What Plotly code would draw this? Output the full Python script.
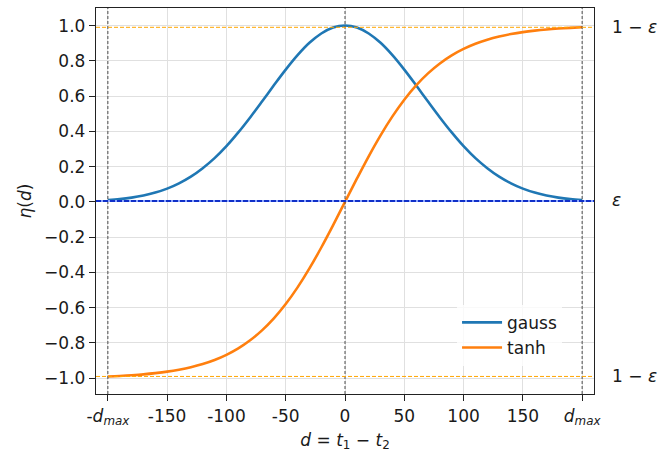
import plotly.graph_objects as go

# Data
d_vals = [-200, -190, -180, -170, -160, -150, -140, -130, -120, -110, -100, -90, -80, -70, -60, -50, -40, -30, -20, -10,
          0, 10, 20, 30, 40, 50, 60, 70, 80, 90, 100, 110, 120, 130, 140, 150, 160, 170, 180, 190, 200]
gauss_half = [1.0, 0.989, 0.955, 0.902, 0.832, 0.750, 0.661, 0.569, 0.479, 0.394, 0.316,
              0.248, 0.191, 0.143, 0.105, 0.075, 0.0525, 0.0359, 0.024, 0.0157, 0.010]
tanh_half = [0.0, 0.1316, 0.2587, 0.3774, 0.4849, 0.5795, 0.6607, 0.7288, 0.7850, 0.8309, 0.8675,
             0.8967, 0.9197, 0.9377, 0.9517, 0.9628, 0.9713, 0.9780, 0.9830, 0.9870, 0.9900]
gauss_vals = gauss_half[:0:-1] + gauss_half
tanh_vals = [-v for v in tanh_half[:0:-1]] + tanh_half

d_max = 200
eps = 0.01
x_ticks = [-200, -150, -100, -50, 0, 50, 100, 150, 200]
x_ticktext = ["-<i>d<sub>max</sub></i>", "-150", "-100", "-50", "0", "50", "100", "150", "<i>d<sub>max</sub></i>"]
y_ticks = [-1.0, -0.8, -0.6, -0.4, -0.2, 0.0, 0.2, 0.4, 0.6, 0.8, 1.0]
y_ticktext = ["\u22121.0", "\u22120.8", "\u22120.6", "\u22120.4", "\u22120.2", "0.0", "0.2", "0.4", "0.6", "0.8", "1.0"]
right_vals = [1 - eps, eps, -(1 - eps)]
right_text = ["1 \u2212 <i>\u03b5</i>", "<i>\u03b5</i>", "1 \u2212 <i>\u03b5</i>"]

FONT = "DejaVu Sans"
FS = 17
fig = go.Figure()

# reference lines
for xv in [-d_max, 0, d_max]:
    fig.add_shape(type="line", x0=xv, x1=xv, y0=0, y1=1, xref="x", yref="paper",
                  line=dict(color="rgba(60,60,60,0.9)", width=1, dash="3px,2px"), layer="above")
fig.add_shape(type="line", x0=0, x1=1, xref="paper", y0=1 - eps, y1=1 - eps, yref="y",
              line=dict(color="#ffa500", width=1, dash="4px,2px"), layer="above")
fig.add_shape(type="line", x0=0, x1=1, xref="paper", y0=-(1 - eps), y1=-(1 - eps), yref="y",
              line=dict(color="#ffa500", width=1, dash="4px,2px"), layer="above")

fig.add_trace(go.Scatter(x=d_vals, y=gauss_vals, mode="lines", name="gauss",
                         line=dict(color="#1f77b4", width=2.6, shape="spline")))
fig.add_trace(go.Scatter(x=d_vals, y=tanh_vals, mode="lines", name="tanh",
                         line=dict(color="#ff7f0e", width=2.6, shape="spline")))

fig.add_shape(type="line", x0=0, x1=1, xref="paper", y0=eps / 2, y1=eps / 2, yref="y",
              line=dict(color="#8fa8ff", width=2.2), layer="above")
fig.add_shape(type="line", x0=0, x1=1, xref="paper", y0=eps / 2, y1=eps / 2, yref="y",
              line=dict(color="#1030c8", width=2.2, dash="5px,2px"), layer="above")

for yv, txt in zip(right_vals, right_text):
    fig.add_annotation(x=1, xref="paper", xanchor="left", xshift=16, y=yv, yref="y",
                       text=txt, showarrow=False, font=dict(family=FONT, size=FS, color="#1a1a1a"))

fig.update_layout(
    width=672, height=456,
    margin=dict(l=96, r=78, t=8, b=62),
    paper_bgcolor="white", plot_bgcolor="white",
    font=dict(family=FONT, size=FS, color="#1a1a1a"),
    showlegend=True,
    legend=dict(x=0.725, y=0.152, xanchor="left", yanchor="middle",
                bgcolor="rgba(255,255,255,0.8)", borderwidth=0,
                font=dict(family=FONT, size=FS), tracegroupgap=4, itemwidth=40),
    xaxis=dict(range=[-210, 210], tickvals=x_ticks, ticktext=x_ticktext,
               showgrid=True, gridcolor="#e0e0e0", gridwidth=1.1,
               showline=True, linecolor="#222", linewidth=1.4, mirror=True,
               ticks="outside", ticklen=6, tickwidth=1.3, tickcolor="#222", zeroline=False,
               title=dict(text="<i>d</i> = <i>t</i><sub>1</sub> \u2212 <i>t</i><sub>2</sub>",
                          font=dict(family=FONT, size=FS), standoff=6)),
    yaxis=dict(range=[-1.0895, 1.0995], tickvals=y_ticks, ticktext=y_ticktext,
               showgrid=True, gridcolor="#e0e0e0", gridwidth=1.1,
               showline=True, linecolor="#222", linewidth=1.4, mirror=True,
               ticks="outside", ticklen=6, tickwidth=1.3, tickcolor="#222", zeroline=False,
               title=dict(text="<i>\u03b7</i>(<i>d</i>)", font=dict(family=FONT, size=FS), standoff=8)),
)

fig.write_html("out.html")
